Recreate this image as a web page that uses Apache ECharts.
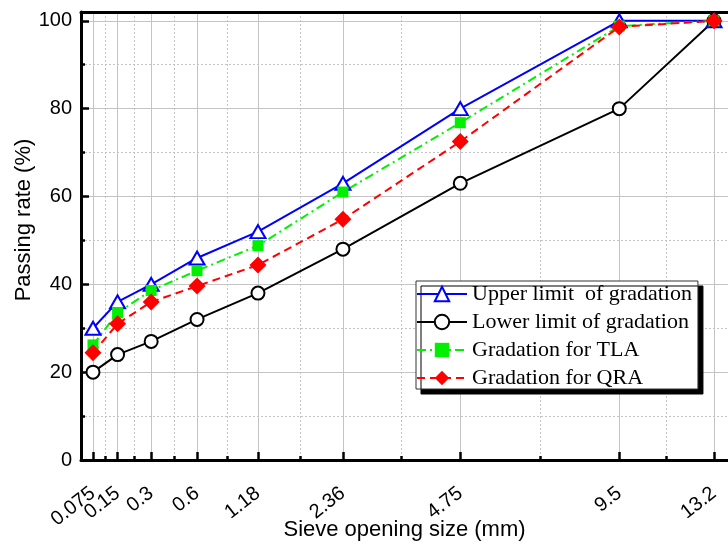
<!DOCTYPE html>
<html>
<head>
<meta charset="utf-8">
<script src="https://cdn.jsdelivr.net/npm/echarts@6/dist/echarts.min.js"></script>
<style>
  html, body { margin: 0; padding: 0; background: #fff; }
  #chart { width: 728px; height: 545px; }
</style>
</head>
<body>
<div id="chart"></div>
<script>
  // sieve sizes (mm) and their tick labels
  var sieveSizes = [0.075, 0.15, 0.3, 0.6, 1.18, 2.36, 4.75, 9.5, 13.2];
  var sizeLabels = ['0.075', '0.15', '0.3', '0.6', '1.18', '2.36', '4.75', '9.5', '13.2'];
  // passing rate (%)
  var upperLimit = [30, 36, 40, 46, 52, 63, 80, 100, 100];
  var lowerLimit = [20, 24, 27, 32, 38, 48, 63, 80, 100];
  var tlaData = [26.2, 33.5, 38.6, 43.1, 48.8, 61, 76.8, 98.8, 100];
  var qraData = [24.4, 31, 36, 39.6, 44.4, 54.8, 72.5, 98.6, 100];
  var yTicks = [0, 20, 40, 60, 80, 100];
  var yMinorTicks = [10, 30, 50, 70, 90];

  // gradation chart: x axis is sieve size ^ 0.45
  var EXP = 0.45;
  function tx(v) { return Math.pow(v, EXP); }

  var xMajor = sieveSizes.map(tx);
  var xMinor = [];
  for (var i = 0; i < xMajor.length - 1; i++) {
    xMinor.push((xMajor[i] + xMajor[i + 1]) / 2);
  }
  // labels are split over two axes so the crowded small sizes are not dropped
  var xLabelsA = xMajor.filter(function (v, i) { return i % 2 === 0; });
  var xLabelsB = xMajor.filter(function (v, i) { return i % 2 === 1; });
  var xMin = 0.2561, xMax = 3.2585;

  function pairs(arr) {
    return arr.map(function (v, i) { return [tx(sieveSizes[i]), v]; });
  }

  function sizeFormatter(v) {
    for (var k = 0; k < xMajor.length; k++) {
      if (Math.abs(xMajor[k] - v) < 1e-6) return sizeLabels[k];
    }
    return '';
  }

  var chart = echarts.init(document.getElementById('chart'));

  var gridLine = { show: true, lineStyle: { color: '#c4c4c4', width: 1, type: 'solid' } };
  var gridLineDot = { show: true, lineStyle: { color: '#c4c4c4', width: 1, type: [2, 2] } };
  var xLabelStyle = {
    show: true, rotate: 38, margin: 31,
    interval: 0, hideOverlap: false, showMinLabel: true, showMaxLabel: true,
    fontFamily: 'Liberation Sans', fontSize: 20, color: '#000',
    formatter: sizeFormatter
  };

  var option = {
    animation: false,
    backgroundColor: '#fff',
    grid: { left: 81, right: 0, top: 12, bottom: 85, containLabel: false, outerBoundsMode: 'none' },
    legend: {
      orient: 'vertical',
      left: 416,
      top: 281,
      padding: [2, 6, 0, 0],
      itemWidth: 50,
      itemHeight: 18,
      itemGap: 6,
      backgroundColor: '#fff',
      borderColor: '#333',
      borderWidth: 1,
      shadowColor: '#000',
      shadowBlur: 0,
      shadowOffsetX: 5,
      shadowOffsetY: 5,
      textStyle: { fontFamily: 'Liberation Serif', fontSize: 22, color: '#000' },
      data: ['Upper limit  of gradation', 'Lower limit of gradation', 'Gradation for TLA', 'Gradation for QRA']
    },
    xAxis: [
      {
        type: 'value', position: 'bottom', min: xMin, max: xMax,
        name: 'Sieve opening size (mm)', nameLocation: 'middle', nameGap: 59, nameMoveOverlap: false,
        nameTextStyle: { fontFamily: 'Liberation Sans', fontSize: 22, color: '#000' },
        axisLine: { show: true, onZero: false, lineStyle: { color: '#000', width: 3 } },
        axisTick: { show: true, inside: true, length: 8, customValues: xMajor, lineStyle: { color: '#000', width: 2.5 } },
        axisLabel: Object.assign({ customValues: xLabelsA }, xLabelStyle),
        splitLine: gridLine
      },
      {
        type: 'value', position: 'bottom', min: xMin, max: xMax,
        axisLine: { show: false, onZero: false },
        axisTick: { show: true, inside: true, length: 4, customValues: xMinor, lineStyle: { color: '#000', width: 2.5 } },
        axisLabel: Object.assign({ customValues: xLabelsB }, xLabelStyle),
        splitLine: gridLineDot
      },
      {
        type: 'value', position: 'top', min: xMin, max: xMax,
        axisLine: { show: true, onZero: false, lineStyle: { color: '#000', width: 3 } },
        axisTick: { show: false },
        axisLabel: { show: false },
        splitLine: { show: false }
      }
    ],
    yAxis: [
      {
        type: 'value', position: 'left', min: 0, max: 102,
        name: 'Passing rate (%)', nameLocation: 'middle', nameGap: 46, nameMoveOverlap: false,
        nameTextStyle: { fontFamily: 'Liberation Sans', fontSize: 22, color: '#000', padding: [0, 0, 0, 32] },
        axisLine: { show: true, onZero: false, lineStyle: { color: '#000', width: 3 } },
        axisTick: { show: true, inside: true, length: 8, customValues: yTicks, lineStyle: { color: '#000', width: 2.5 } },
        axisLabel: { show: true, customValues: yTicks, margin: 9, fontFamily: 'Liberation Sans', fontSize: 20, color: '#000' },
        splitLine: gridLine
      },
      {
        type: 'value', position: 'left', min: 0, max: 102,
        axisLine: { show: false, onZero: false },
        axisTick: { show: true, inside: true, length: 4, customValues: yMinorTicks, lineStyle: { color: '#000', width: 2.5 } },
        axisLabel: { show: false },
        splitLine: gridLineDot
      }
    ],
    series: [
      {
        name: 'Upper limit  of gradation', type: 'line',
        xAxisIndex: 0, yAxisIndex: 0,
        symbol: 'triangle', symbolSize: [15, 13],
        lineStyle: { color: '#0000ff', width: 2 },
        itemStyle: { color: '#fff', borderColor: '#0000ff', borderWidth: 2 },
        data: pairs(upperLimit)
      },
      {
        name: 'Lower limit of gradation', type: 'line',
        xAxisIndex: 0, yAxisIndex: 0,
        symbol: 'circle', symbolSize: 13,
        lineStyle: { color: '#000', width: 2 },
        itemStyle: { color: '#fff', borderColor: '#000', borderWidth: 2 },
        data: pairs(lowerLimit)
      },
      {
        name: 'Gradation for TLA', type: 'line',
        xAxisIndex: 0, yAxisIndex: 0,
        symbol: 'rect', symbolSize: 11,
        lineStyle: { color: '#00f000', width: 2, type: [9, 4, 2, 4] },
        itemStyle: { color: '#00f000' },
        data: pairs(tlaData)
      },
      {
        name: 'Gradation for QRA', type: 'line',
        xAxisIndex: 0, yAxisIndex: 0,
        symbol: 'diamond', symbolSize: 17,
        lineStyle: { color: '#ff0000', width: 2, type: [8, 5] },
        itemStyle: { color: '#ff0000' },
        data: pairs(qraData)
      }
    ]
  };

  option && chart.setOption(option);
</script>
</body>
</html>
